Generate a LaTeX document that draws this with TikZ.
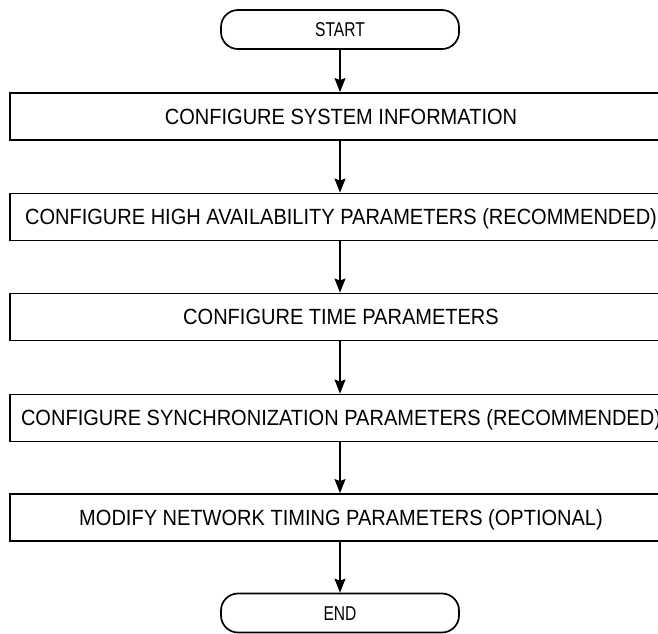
\documentclass[tikz,border=0pt]{standalone}
\usepackage{fontspec}
\setmainfont{Liberation Sans}
\usetikzlibrary{arrows.meta}
\newcommand\procfont[1]{\scalebox{0.91}[1]{\fontsize{22}{22}\selectfont #1}}
\newcommand\termtext[1]{\scalebox{0.78}[1]{\fontsize{20}{20}\selectfont #1}}
\begin{document}
\begin{tikzpicture}[x=1pt,y=-1pt,
  term/.style={draw, line width=1.7pt, rounded corners=17pt, minimum width=238pt,
    minimum height=39pt, inner sep=0pt, text height=14.3pt, text depth=0pt},
  proc/.style={draw, line width=1.9pt, minimum width=662pt, minimum height=47pt,
    inner sep=0pt, text height=15.7pt, text depth=0pt},
  flow/.style={-{Stealth[length=14pt,width=11pt,inset=2pt]}, line width=1.3pt}]
\useasboundingbox (0,0) rectangle (658,633);
\clip (0,0) rectangle (658,633);
\node[term] (start) at (340,29.5) {\termtext{START}};
\node[proc] (b1) at (341,116.5) {\procfont{CONFIGURE SYSTEM INFORMATION}};
\node[proc] (b2) at (341,217) {\procfont{CONFIGURE HIGH AVAILABILITY PARAMETERS (RECOMMENDED)}};
\node[proc] (b3) at (341,317) {\procfont{CONFIGURE TIME PARAMETERS}};
\node[proc] (b4) at (341,418) {\procfont{CONFIGURE SYNCHRONIZATION PARAMETERS (RECOMMENDED)}};
\node[proc] (b5) at (341,517.5) {\procfont{MODIFY NETWORK TIMING PARAMETERS (OPTIONAL)}};
\node[term] (end) at (340,613) {\termtext{END}};
\draw[flow] (start.south) -- (start.south |- b1.north);
\draw[flow] (start.south |- b1.south) -- (start.south |- b2.north);
\draw[flow] (start.south |- b2.south) -- (start.south |- b3.north);
\draw[flow] (start.south |- b3.south) -- (start.south |- b4.north);
\draw[flow] (start.south |- b4.south) -- (start.south |- b5.north);
\draw[flow] (start.south |- b5.south) -- (end.north);
\end{tikzpicture}
\end{document}
